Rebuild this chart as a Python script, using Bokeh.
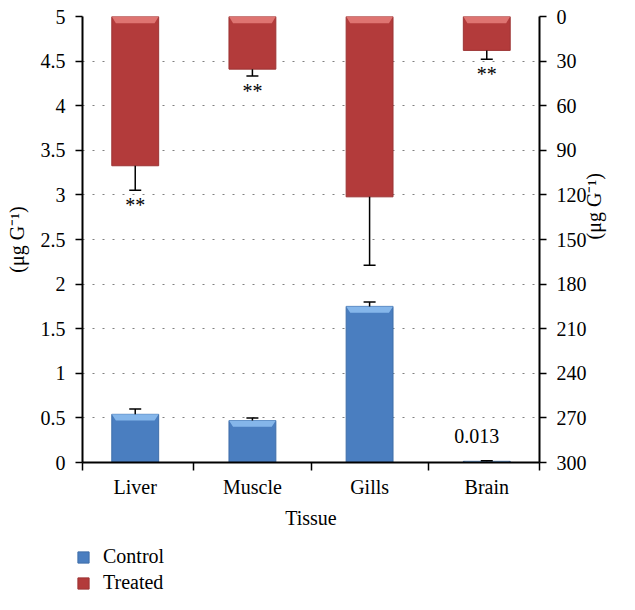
import numpy as np
from bokeh.plotting import figure
from bokeh.layouts import column
from bokeh.models import (Range1d, LinearAxis, FixedTicker, NumeralTickFormatter,
                          Legend, LegendItem)
from bokeh.core.properties import value
from bokeh.embed import file_html
from bokeh.resources import INLINE

# ---- data ----
tissues = ["Liver", "Muscle", "Gills", "Brain"]
control = [0.54, 0.47, 1.75, 0.013]
control_err = [0.06, 0.03, 0.05, 0.006]
treated = [100.4, 35.4, 121.3, 22.8]
treated_err = [16.5, 4.6, 46.1, 5.9]
treated_sig = ["**", "**", "", "**"]
control_labels = ["", "", "", "0.013"]
left_ticks = [0, 0.5, 1, 1.5, 2, 2.5, 3, 3.5, 4, 4.5, 5]
right_ticks = [0, 30, 60, 90, 120, 150, 180, 210, 240, 270, 300]
y_label = "(μg G⁻¹)"
x_label = "Tissue"
series_names = ["Control", "Treated"]

FONT = "Liberation Serif"
FS = "20px"
BLUE, BLUE_HI, BLUE_EDGE = "#4a7ec0", "#8cbdee", "#3f6ea9"
RED, RED_HI, RED_EDGE = "#b33b3b", "#e27b78", "#9c3434"

n = len(tissues)
centers = np.arange(n) + 0.5
bar_w = 0.4
ctl = np.array(control)
ctl_e = np.array(control_err)
trt = np.array(treated)
trt_e = np.array(treated_err)

W = 619
p = figure(width=W, height=540,
           x_range=Range1d(0.05, n - 0.05),
           y_range=Range1d(left_ticks[0], left_ticks[-1]),
           output_backend="svg", toolbar_location=None,
           min_border_left=82, min_border_right=77,
           min_border_top=16, min_border_bottom=78)
p.extra_y_ranges = {"right": Range1d(right_ticks[-1], right_ticks[0])}
p.outline_line_color = None
p.background_fill_color = "white"
p.border_fill_color = "white"

# ---- axes ----
def style_axis(ax):
    ax.axis_line_width = 2
    ax.axis_line_color = "black"
    ax.major_label_text_font = FONT
    ax.major_label_text_font_size = FS
    ax.major_label_text_color = "black"
    ax.axis_label_text_font = FONT
    ax.axis_label_text_font_size = FS
    ax.axis_label_text_font_style = "normal"
    ax.axis_label_text_color = "black"

p.xaxis.ticker = FixedTicker(ticks=list(centers),
                             minor_ticks=[0.05] + list(np.arange(1, n)) + [n - 0.05])
p.xaxis.major_label_overrides = {float(c): t for c, t in zip(centers, tissues)}
p.xaxis.major_tick_out = 0
p.xaxis.major_tick_in = 0
p.xaxis.minor_tick_out = 8
p.xaxis.minor_tick_in = 0
p.xaxis.minor_tick_line_width = 1.5
p.xaxis.minor_tick_line_color = "black"
p.xaxis.major_label_standoff = 5
p.xaxis.axis_label = x_label
p.xaxis.axis_label_standoff = 6
style_axis(p.xaxis[0])

p.yaxis.ticker = FixedTicker(ticks=left_ticks)
p.yaxis.formatter = NumeralTickFormatter(format="0.[0]")
p.yaxis.major_tick_out = 7
p.yaxis.major_tick_in = 0
p.yaxis.major_tick_line_width = 1.5
p.yaxis.minor_tick_out = 0
p.yaxis.minor_tick_in = 0
p.yaxis.major_label_standoff = 10
p.yaxis.axis_label = y_label
p.yaxis.axis_label_standoff = 10
style_axis(p.yaxis[0])

ra = LinearAxis(y_range_name="right", ticker=FixedTicker(ticks=right_ticks),
                axis_label=y_label)
ra.major_tick_out = 7
ra.major_tick_in = 0
ra.major_tick_line_width = 1.5
ra.minor_tick_out = 0
ra.minor_tick_in = 0
ra.major_label_standoff = 10
ra.axis_label_standoff = 5
ra.axis_label_orientation = 1.5707963
style_axis(ra)
p.add_layout(ra, "right")

p.xgrid.visible = False
p.ygrid.grid_line_color = "#808080"
p.ygrid.grid_line_dash = "2 8"
p.ygrid.grid_line_width = 1

# ---- bars ----
r_ctl = p.vbar(x=centers, top=ctl, bottom=0, width=bar_w,
               fill_color=BLUE, line_color=BLUE_EDGE, line_width=1)
r_trt = p.vbar(x=centers, top=0, bottom=trt, width=bar_w, y_range_name="right",
               fill_color=RED, line_color=RED_EDGE, line_width=1)

# bevel highlights at the top of each bar
d = 0.035
hc = np.minimum(0.07, ctl)
p.patches(xs=[[c - bar_w / 2, c + bar_w / 2, c + bar_w / 2 - d, c - bar_w / 2 + d] for c in centers],
          ys=[[v, v, v - h, v - h] for v, h in zip(ctl, hc)],
          fill_color=BLUE_HI, line_color=None, fill_alpha=0.9)
ht = np.minimum(4.5, trt)
p.patches(xs=[[c - bar_w / 2, c + bar_w / 2, c + bar_w / 2 - d, c - bar_w / 2 + d] for c in centers],
          ys=[[0, 0, h, h] for h in ht], y_range_name="right",
          fill_color=RED_HI, line_color=None, fill_alpha=0.9)

# ---- error bars ----
p.segment(x0=centers, y0=ctl, x1=centers, y1=ctl + ctl_e, line_color="black", line_width=1.5)
p.scatter(x=centers, y=ctl + ctl_e, marker="dash", size=12, line_color="black", line_width=1.5)
p.segment(x0=centers, y0=trt, x1=centers, y1=trt + trt_e, line_color="black",
          line_width=1.5, y_range_name="right")
p.scatter(x=centers, y=trt + trt_e, marker="dash", size=12, line_color="black",
          line_width=1.5, y_range_name="right")

# ---- annotations ----
p.text(x=centers, y=trt + trt_e, text=treated_sig, y_range_name="right",
       text_align="center", text_baseline="top", y_offset=4,
       text_font=value(FONT), text_font_size=FS, text_color="black")
p.text(x=centers, y=ctl, text=control_labels, text_align="center",
       text_baseline="alphabetic", y_offset=-25, x_offset=-10,
       text_font=value(FONT), text_font_size=FS, text_color="black")

# ---- legend (own strip below the chart) ----
lg = figure(width=W, height=54, x_range=Range1d(0, 1), y_range=Range1d(0, 1),
            output_backend="svg", toolbar_location=None,
            min_border_left=0, min_border_right=0, min_border_top=0, min_border_bottom=0)
lg.frame_align = False
lg.axis.visible = False
lg.grid.visible = False
lg.outline_line_color = None
lg.background_fill_color = "white"
lg.border_fill_color = "white"
# legend proxies (kept outside the strip's visible range)
lc = lg.vbar(x=[-5], top=[0], bottom=[0], width=0.1, fill_color=BLUE, line_color=BLUE_EDGE)
lt = lg.vbar(x=[-5], top=[0], bottom=[0], width=0.1, fill_color=RED, line_color=RED_EDGE)
legend = Legend(items=[LegendItem(label=series_names[0], renderers=[lc]),
                       LegendItem(label=series_names[1], renderers=[lt])],
                location=(76, 0), orientation="vertical",
                glyph_width=14, glyph_height=14, label_height=20,
                label_standoff=13, spacing=3, padding=0, margin=0,
                border_line_color=None, background_fill_alpha=0,
                label_text_font=FONT, label_text_font_size=FS,
                label_text_color="black")
lg.add_layout(legend)

open("out.html", "w").write(file_html(column(p, lg, spacing=0), INLINE))
